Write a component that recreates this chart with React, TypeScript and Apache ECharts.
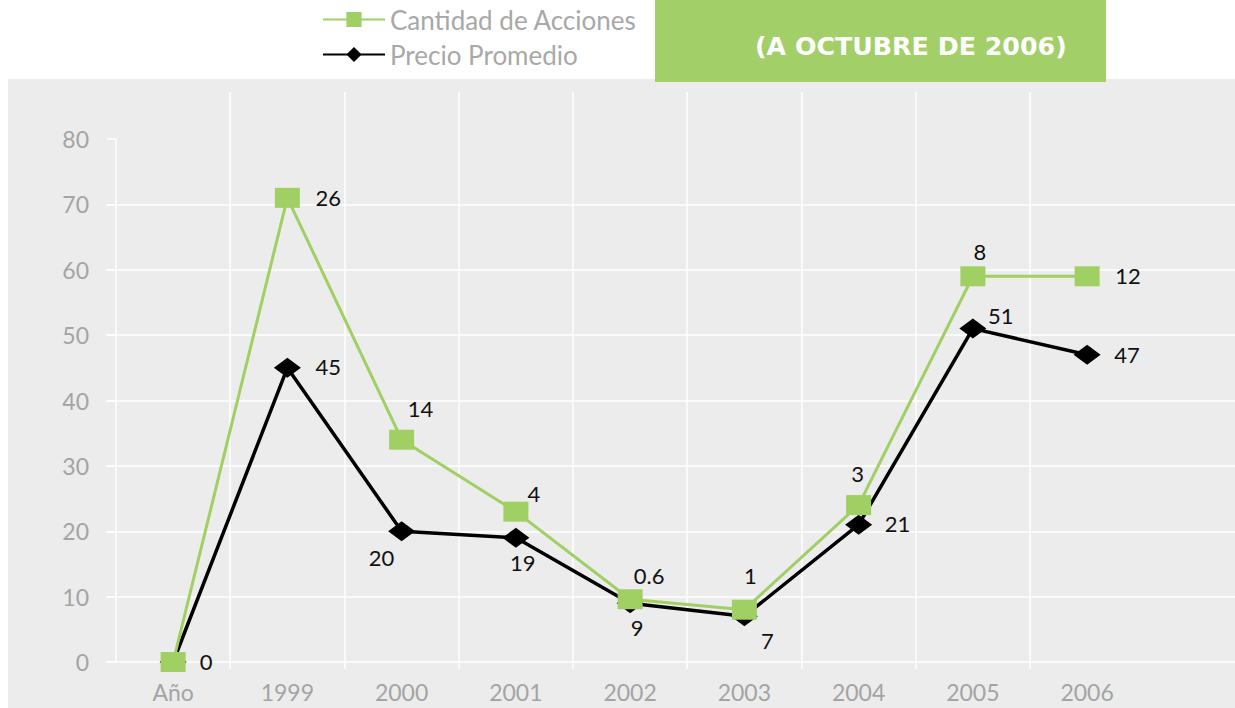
import React, { useEffect, useRef } from 'react';
import * as echarts from 'echarts';

// ---- data ----
const categories = ['Año', '1999', '2000', '2001', '2002', '2003', '2004', '2005', '2006'];
const cantidadValues = [0, 71, 34, 23, 9.6, 8, 24, 59, 59];
const cantidadLabels = ['', '26', '14', '4', '0.6', '1', '3', '8', '12'];
const precioValues = [0, 45, 20, 19, 9, 7, 21, 51, 47];
const precioLabels = ['0', '45', '20', '19', '9', '7', '21', '51', '47'];
const yMin = 0;
const yMax = 80;
const yStep = 10;

// ---- label placement (styling) ----
const cantidadOffsets: [number, number][] = [
  [0, 0], [41, 0], [19, -31], [18, -18], [19, -24], [6, -34], [-1, -32], [7, -25], [41, -1],
];
const precioOffsets: [number, number][] = [
  [33, -1], [41, -1], [-20, 26], [7, 25], [7, 24], [23, 24], [39, -1], [28, -13], [40, 0],
];

const GREEN = '#a0cf64';
const GRAY_TEXT = '#a4a4a4';
const FONT = 'Lato';

function buildData(values: number[], labels: string[], offsets: [number, number][]) {
  return values.map((v, i) => ({
    value: v,
    label: labels[i]
      ? { show: true, formatter: labels[i], offset: offsets[i] }
      : { show: false },
  }));
}

export default function App() {
  const ref = useRef<HTMLDivElement>(null);
  useEffect(() => {
    const chart = echarts.init(ref.current!, null, { renderer: 'svg' });
    const white = { color: '#ffffff', width: 1.5 };
    chart.setOption({
      animation: false,
      backgroundColor: '#ffffff',
      title: {
        text: '(A OCTUBRE DE 2006)',
        left: 755,
        top: 34,
        padding: 0,
        textStyle: { color: '#ffffff', fontSize: 25.3, fontWeight: 'bold', fontFamily: 'DejaVu Sans' },
      },
      legend: {
        data: ['Cantidad de Acciones', 'Precio Promedio'],
        orient: 'vertical',
        left: 322,
        top: 6,
        padding: 0,
        itemWidth: 62,
        itemHeight: 19,
        itemGap: 8,
        textStyle: { color: '#a8a8a8', fontSize: 26, fontFamily: FONT, lineHeight: 27 },
      },
      graphic: [
        { type: 'rect', silent: true, z: -10, shape: { x: 8, y: 79, width: 1227, height: 629 }, style: { fill: '#ececec' } },
        { type: 'rect', silent: true, z: -9, shape: { x: 655, y: 0, width: 451, height: 82 }, style: { fill: '#a2cf68' } },
      ],
      grid: [
        { left: 230, right: 205, top: 92, bottom: 39 },
        { left: 106, right: 0, top: 204.375, bottom: 46 },
        { left: 116, right: 90.75, top: 139, bottom: 46 },
      ],
      xAxis: [
        {
          gridIndex: 0, type: 'value', min: 1, max: 8, interval: 1,
          axisLine: { show: false }, axisTick: { show: false }, axisLabel: { show: false },
          splitLine: { show: true, lineStyle: white },
        },
        { gridIndex: 1, type: 'value', show: false },
        {
          gridIndex: 2, type: 'category', data: categories, boundaryGap: true,
          axisLine: { show: false }, axisTick: { show: false },
          axisLabel: { color: GRAY_TEXT, fontSize: 23, fontFamily: FONT, margin: 18 },
          splitLine: { show: false },
        },
      ],
      yAxis: [
        { gridIndex: 0, type: 'value', show: false },
        {
          gridIndex: 1, type: 'value', min: yMin, max: yMax - yStep, interval: yStep,
          axisLine: { show: false }, axisTick: { show: false }, axisLabel: { show: false },
          splitLine: { show: true, lineStyle: white },
        },
        {
          gridIndex: 2, type: 'value', min: yMin, max: yMax, interval: yStep,
          axisLine: { show: true, lineStyle: white },
          axisTick: { show: true, length: 9, lineStyle: white },
          axisLabel: { color: GRAY_TEXT, fontSize: 23, fontFamily: FONT, margin: 27 },
          splitLine: { show: false },
        },
      ],
      series: [
        {
          name: 'Precio Promedio',
          type: 'line',
          xAxisIndex: 2,
          yAxisIndex: 2,
          data: buildData(precioValues, precioLabels, precioOffsets),
          symbol: 'diamond',
          symbolSize: [27, 20],
          itemStyle: { color: '#000000' },
          lineStyle: { color: '#000000', width: 3.5 },
          label: { show: true, position: 'inside', color: '#111111', fontSize: 22, fontFamily: FONT },
          z: 3,
        },
        {
          name: 'Cantidad de Acciones',
          type: 'line',
          xAxisIndex: 2,
          yAxisIndex: 2,
          data: buildData(cantidadValues, cantidadLabels, cantidadOffsets),
          symbol: 'rect',
          symbolSize: [25, 20],
          itemStyle: { color: GREEN },
          lineStyle: { color: GREEN, width: 3 },
          label: { show: true, position: 'inside', color: '#111111', fontSize: 22, fontFamily: FONT },
          z: 4,
        },
      ],
    });
    return () => chart.dispose();
  }, []);
  return (
    <div
      ref={ref}
      style={{ position: 'absolute', left: 0, top: 0, width: 1235, height: 708 }}
    />
  );
}
